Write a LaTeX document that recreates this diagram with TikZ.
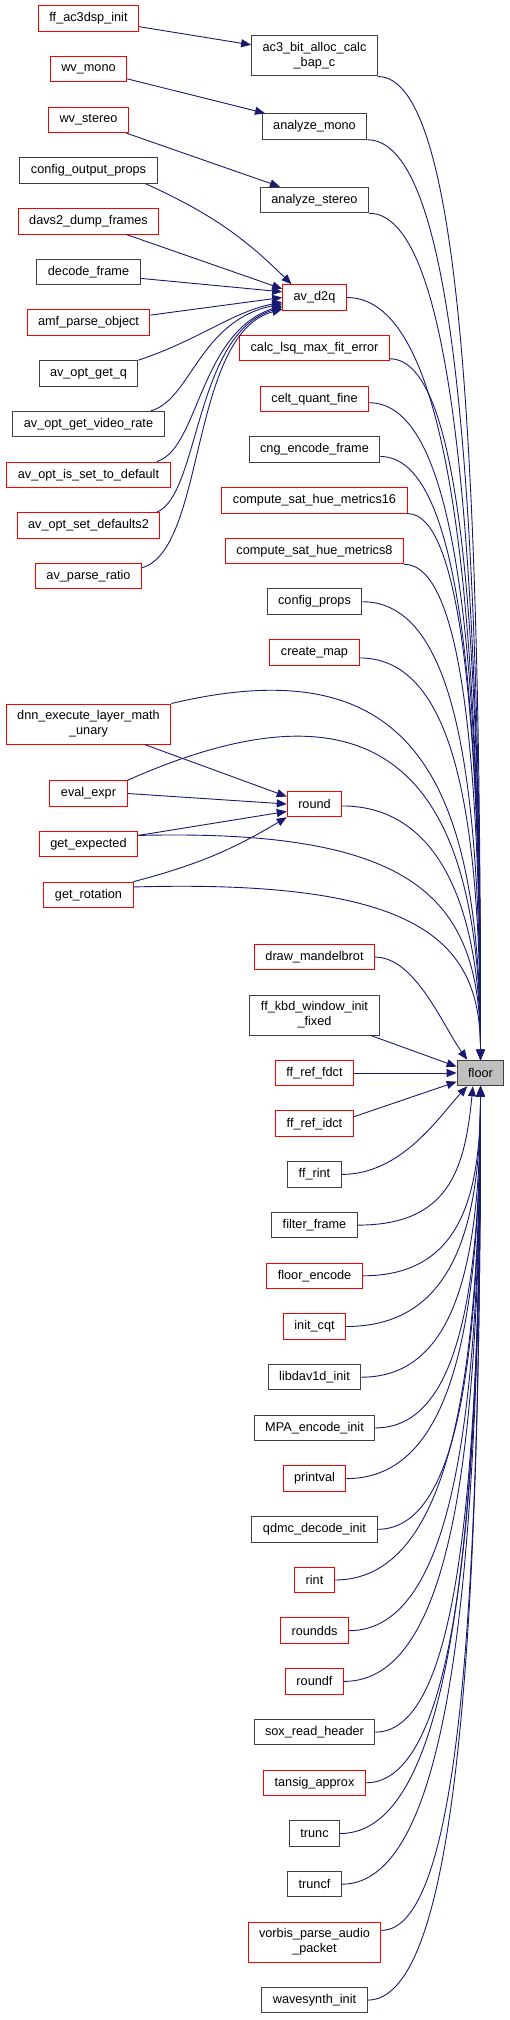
\documentclass[tikz,border=0pt]{standalone}
\usepackage{fontspec}
\setmainfont[Ligatures=CommonOff]{Liberation Sans}
\usetikzlibrary{positioning, arrows.meta}
\usepackage{xcolor}
\definecolor{edgeblue}{HTML}{191970}
\definecolor{boxgrey}{HTML}{404040}
\definecolor{boxred}{HTML}{FF0000}
\definecolor{focusgrey}{HTML}{BFBFBF}

\begin{document}
\begin{tikzpicture}[
        x=1pt, y=-1pt,
        node distance=24.2pt and 104pt,
        fn/.style={rectangle, draw=boxgrey, line width=1pt, fill=white, minimum height=25.5pt, inner xsep=11pt, inner ysep=2pt, align=center, font=\fontsize{12.7}{15}\selectfont},
        fnred/.style={fn, draw=boxred},
        twoline/.style={minimum height=40pt},
        focus/.style={fn, fill=focusgrey},
        call/.style={draw=edgeblue, line width=0.9pt, -{Triangle[length=10pt, width=8pt]}}
    ]
        \useasboundingbox (0,0) rectangle (509,2020);

        % Left column
        \node (ffac3dsp) [fnred] at (88.5,18.5) {ff\_ac3dsp\_init};
        \node (wvmono) [fnred, below=of ffac3dsp] {wv\_mono};
        \node (wvstereo) [fnred, below=of wvmono] {wv\_stereo};
        \node (cfgout) [fn, below=of wvstereo] {config\_output\_props};
        \node (davs2) [fnred, below=of cfgout] {davs2\_dump\_frames};
        \node (decframe) [fn, below=of davs2] {decode\_frame};
        \node (amf) [fnred, below=of decframe] {amf\_parse\_object};
        \node (optgetq) [fn, below=of amf] {av\_opt\_get\_q};
        \node (optvrate) [fn, below=of optgetq] {av\_opt\_get\_video\_rate};
        \node (optisset) [fnred, below=of optvrate] {av\_opt\_is\_set\_to\_default};
        \node (optsetdef) [fnred, below=of optisset] {av\_opt\_set\_defaults2};
        \node (parseratio) [fnred, below=of optsetdef] {av\_parse\_ratio};
        \node (dnn) [fnred, twoline] at (88.5,724) {dnn\_execute\_layer\_math\\\_unary};
        \node (evalexpr) [fnred] at (88.5,793.5) {eval\_expr};
        \node (getexp) [fnred, below=of evalexpr] {get\_expected};
        \node (getrot) [fnred, below=of getexp] {get\_rotation};

        % Middle column
        \node (ac3bap) [fn, twoline] at (314.5,56) {ac3\_bit\_alloc\_calc\\\_bap\_c};
        \node (anamono) [fn] at (314.5,126.5) {analyze\_mono};
        \node (anastereo) [fn] at (314.5,200) {analyze\_stereo};
        \node (avd2q) [fnred] at (314.5,297.5) {av\_d2q};
        \node (calclsq) [fnred, below=of avd2q] {calc\_lsq\_max\_fit\_error};
        \node (celt) [fnred, below=of calclsq] {celt\_quant\_fine};
        \node (cng) [fn, below=of celt] {cng\_encode\_frame};
        \node (sathue16) [fnred, below=of cng] {compute\_sat\_hue\_metrics16};
        \node (sathue8) [fnred, below=of sathue16] {compute\_sat\_hue\_metrics8};
        \node (cfgprops) [fn, below=of sathue8] {config\_props};
        \node (createmap) [fnred, below=of cfgprops] {create\_map};
        \node (round) [fnred] at (314.5,804) {round};
        \node (fdct) [fnred] at (314.5,1073) {ff\_ref\_fdct};
        \node (kbd) [fn, twoline, above=of fdct] {ff\_kbd\_window\_init\\\_fixed};
        \node (mandel) [fnred, above=of kbd] {draw\_mandelbrot};
        \node (idct) [fnred, below=of fdct] {ff\_ref\_idct};
        \node (ffrint) [fn, below=of idct] {ff\_rint};
        \node (filterframe) [fn, below=of ffrint] {filter\_frame};
        \node (floorenc) [fnred, below=of filterframe] {floor\_encode};
        \node (initcqt) [fnred, below=of floorenc] {init\_cqt};
        \node (dav1d) [fn, below=of initcqt] {libdav1d\_init};
        \node (mpa) [fn, below=of dav1d] {MPA\_encode\_init};
        \node (printval) [fnred, below=of mpa] {printval};
        \node (qdmc) [fn, below=of printval] {qdmc\_decode\_init};
        \node (rint) [fnred, below=of qdmc] {rint};
        \node (roundds) [fnred, below=of rint] {roundds};
        \node (roundf) [fnred, below=of roundds] {roundf};
        \node (sox) [fn, below=of roundf] {sox\_read\_header};
        \node (tansig) [fnred, below=of sox] {tansig\_approx};
        \node (trunc) [fn, below=of tansig] {trunc};
        \node (truncf) [fn, below=of trunc] {truncf};
        \node (vorbis) [fnred, twoline, below=of truncf] {vorbis\_parse\_audio\\\_packet};
        \node (wavesynth) [fn, below=of vorbis] {wavesynth\_init};

        % Function under study
        \node (floor) [focus] at (480.5,1073) {floor};

        % Calls into the middle column
        \draw [call] (ffac3dsp) -- (ac3bap.170);
        \draw [call] (wvmono) -- (anamono.165);
        \draw [call] (wvstereo) -- (anastereo.159);
        \draw [call] (cfgout.-13) to[bend left=10] (avd2q.150);
        \draw [call] (davs2) -- (avd2q.165);
        \draw [call] (decframe.-7) -- (avd2q.170);
        \draw [call] (amf.7) -- (avd2q.180);
        \draw [call] (optgetq.north east) .. controls +(60,-20) and +(-50,10) .. (avd2q.188);
        \draw [call] (optvrate.12) .. controls +(40,-11) and +(-83,17) .. (avd2q.191);
        \draw [call] (optisset.11) .. controls +(42,-12) and +(-83,27) .. (avd2q.194);
        \draw [call] (optsetdef.11) .. controls +(43,-17) and +(-88,26) .. (avd2q.197);
        \draw [call] (parseratio.9) .. controls +(64,-18) and +(-93,25) .. (avd2q.200);
        \draw [call] (dnn) -- (round.165);
        \draw [call] (evalexpr.east) -- (round.west);
        \draw [call] (getexp.10) -- (round.195);
        \draw [call] (getrot.north east) to[bend right=8] (round.south west);

        % Calls into floor, from above
        \draw [call] (ac3bap.south east) .. controls +(85,0) and +(0,-590) .. (floor.north);
        \draw [call] (anamono.south east) .. controls +(90,0) and +(0,-550) .. (floor.north);
        \draw [call] (anastereo.south east) .. controls +(85,0) and +(0,-510) .. (floor.north);
        \draw [call] (avd2q.east) .. controls +(105,0) and +(0,-460) .. (floor.north);
        \draw [call] (calclsq.-8) .. controls +(72,0) and +(0,-430) .. (floor.north);
        \draw [call] (celt.-4) .. controls +(90,0) and +(0,-400) .. (floor.north);
        \draw [call] (cng.-6) .. controls +(80,0) and +(0,-365) .. (floor.north);
        \draw [call] (sathue16.south east) .. controls +(55,0) and +(0,-330) .. (floor.north);
        \draw [call] (sathue8.south east) .. controls +(58,0) and +(0,-300) .. (floor.north);
        \draw [call] (cfgprops.east) .. controls +(95,0) and +(0,-275) .. (floor.north);
        \draw [call] (createmap.-7) .. controls +(95,0) and +(0,-245) .. (floor.north);
        \draw [call] (dnn.north east) .. controls +(228,-54) and +(0,-300) .. (floor.north);
        \draw [call] (evalexpr.north east) .. controls +(273,-121) and +(0,-260) .. (floor.north);
        \draw [call] (round.-4) .. controls +(95,0) and +(0,-155) .. (floor.north);
        \draw [call] (getexp.10) .. controls +(281,-7) and +(0,-160) .. (floor.north);
        \draw [call] (getrot.10) .. controls +(286,-8) and +(0,-120) .. (floor.north);
        \draw [call] (mandel.east) .. controls +(40,0) and +(-25,-35) .. (floor.135);
        \draw [call] (kbd) -- (floor.165);
        \draw [call] (fdct) -- (floor);
        \draw [call] (idct.10) -- (floor.200);

        % Calls into floor, from below
        \draw [call] (ffrint.east) .. controls +(60,0) and +(-28,30) .. (floor.225);
        \draw [call] (filterframe.east) .. controls +(90,0) and +(-8,85) .. (floor.240);
        \draw [call] (floorenc.east) .. controls +(95,0) and +(0,115) .. (floor.south);
        \draw [call] (initcqt.east) .. controls +(105,0) and +(0,145) .. (floor.south);
        \draw [call] (dav1d.east) .. controls +(95,0) and +(0,175) .. (floor.south);
        \draw [call] (mpa.east) .. controls +(83,0) and +(0,205) .. (floor.south);
        \draw [call] (printval.east) .. controls +(107,0) and +(0,235) .. (floor.south);
        \draw [call] (qdmc.east) .. controls +(82,0) and +(0,265) .. (floor.south);
        \draw [call] (rint.east) .. controls +(115,0) and +(0,295) .. (floor.south);
        \draw [call] (roundds.east) .. controls +(105,0) and +(0,325) .. (floor.south);
        \draw [call] (roundf.east) .. controls +(110,0) and +(0,355) .. (floor.south);
        \draw [call] (sox.east) .. controls +(85,0) and +(0,385) .. (floor.south);
        \draw [call] (tansig.east) .. controls +(92,0) and +(0,420) .. (floor.south);
        \draw [call] (trunc.east) .. controls +(112,0) and +(0,450) .. (floor.south);
        \draw [call] (truncf.east) .. controls +(110,0) and +(0,480) .. (floor.south);
        \draw [call] (vorbis.10) .. controls +(80,0) and +(0,505) .. (floor.south);
        \draw [call] (wavesynth.east) .. controls +(90,0) and +(0,550) .. (floor.south);
\end{tikzpicture}
\end{document}
